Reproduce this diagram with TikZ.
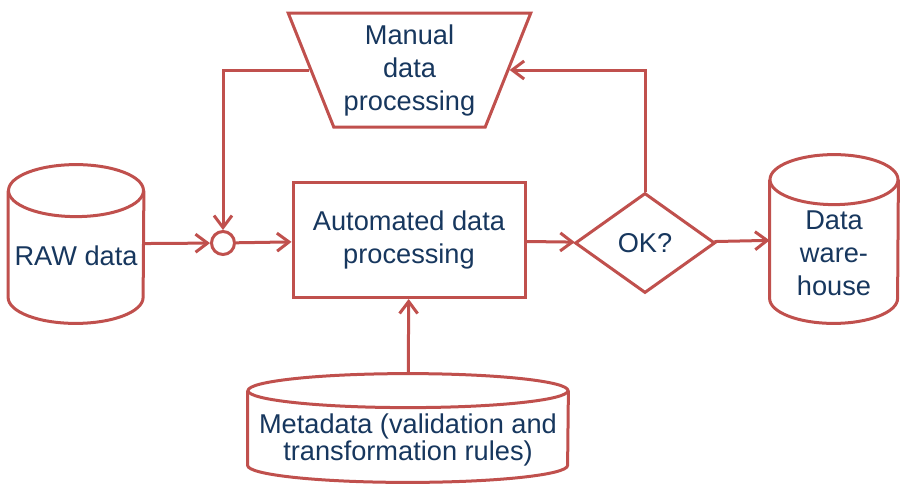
\documentclass[tikz,border=0pt]{standalone}
\usepackage{fontspec}
\setmainfont{Liberation Sans}
\usetikzlibrary{shapes.geometric,arrows.meta}
\definecolor{flowred}{HTML}{C0504D}
\definecolor{flowtext}{HTML}{17375E}

% drum outline round a rectangular node: name, x radius, y radius
\newcommand{\drawdrum}[3]{%
  \draw [box] ([yshift=-#3]#1.north west) -- ([yshift=#3]#1.south west)
        arc [start angle=180, end angle=360, x radius=#2, y radius=#3]
        -- ([yshift=-#3]#1.north east);
  \draw [box] ([yshift=-#3]#1.north) ellipse [x radius=#2, y radius=#3];
}

\begin{document}
\begin{tikzpicture}[x=0.5pt, y=-0.5pt,
    every node/.style={font=\fontsize{13.6}{16.5}\selectfont, text=flowtext, align=center},
    box/.style={draw=flowred, line width=1.5pt, fill=white},
    store/.style={rectangle, inner sep=0pt},
    flow/.style={draw=flowred, line width=1.5pt, ->},
    >={Straight Barb[length=6pt,width=9pt]}]

                \useasboundingbox (0,0) rectangle (901,484);

                % Stores
                \node [store, minimum width=67.5pt, minimum height=79pt] (raw) at (76,244) {};
                \node [store, minimum width=64pt, minimum height=84pt] (dwh) at (834,239) {};
                \node [store, minimum width=160pt, minimum height=54pt] (meta) at (408,428) {};
                \drawdrum{raw}{33.75pt}{13pt}
                \drawdrum{dwh}{32pt}{12.5pt}
                \drawdrum{meta}{80pt}{8.5pt}
                \node [yshift=-6pt] (rawtext) at (raw) {RAW data};
                \node [yshift=-7pt] (dwhtext) at (dwh) {Data\\ware-\\house};
                \node [yshift=-6pt, font=\fontsize{13.6}{13.5}\selectfont] (metatext) at (meta) {Metadata (validation and\\transformation rules)};

                % Processing
                \node [box, circle, minimum size=11.5pt, inner sep=0pt] (join) at (223,243) {};
                \node [box, rectangle, minimum width=116pt, minimum height=57.5pt] (auto) at (409,240) {Automated data\\processing};
                \node [box, diamond, minimum width=70pt, minimum height=50pt, inner sep=0pt] (ok) at (645,243) {OK?};
                \node [box, trapezium, shape border rotate=180, trapezium stretches=true,
                       minimum width=121.5pt, minimum height=57pt, trapezium angle=67.4] (manual) at (409.5,70) {Manual\\data\\processing};

                % Flows
                \draw [flow] (raw) -- (join);
                \draw [flow] (join) -- (auto);
                \draw [flow] (auto) -- (ok);
                \draw [flow] (ok) -- (dwh);
                \draw [flow] (meta) -- (auto);
                \draw [flow] (ok.north) |- (manual.0);
                \draw [flow] (manual.180) -| (join.north);
\end{tikzpicture}
\end{document}
